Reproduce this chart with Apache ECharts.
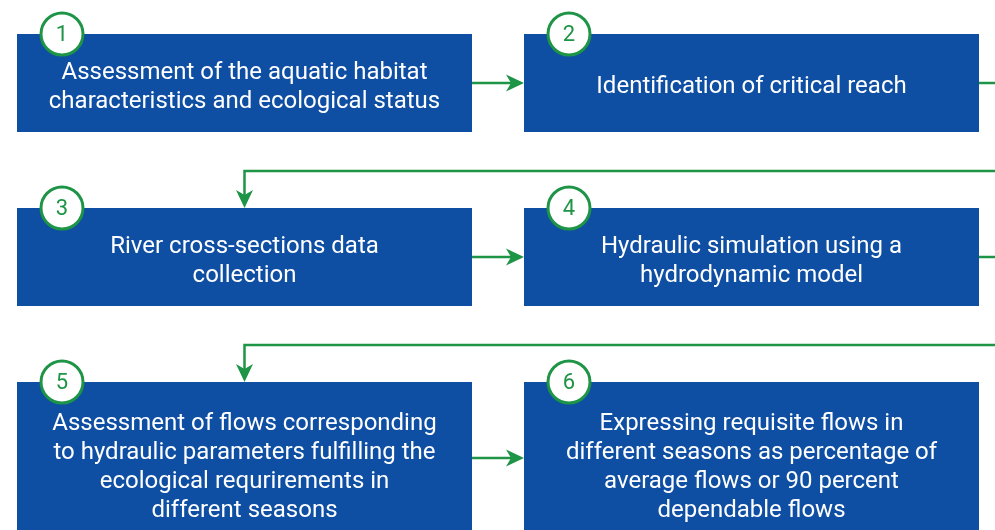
<!DOCTYPE html>
<html>
<head>
<meta charset="utf-8">
<script src="https://cdn.jsdelivr.net/npm/echarts@6/dist/echarts.min.js"></script>
<style>
  html, body { margin: 0; padding: 0; background: #fff; }
  #chart { width: 995px; height: 530px; }
</style>
</head>
<body>
<div id="chart"></div>
<script>
// steps of the flow
const stepNumbers = ["1", "2", "3", "4", "5", "6"];
const stepLabels = [
  "Assessment of the aquatic habitat\ncharacteristics and ecological status",
  "Identification of critical reach",
  "River cross-sections data\ncollection",
  "Hydraulic simulation using a\nhydrodynamic model",
  "Assessment of flows corresponding\nto hydraulic parameters fulfilling the\necological requrirements in\ndifferent seasons",
  "Expressing requisite flows in\ndifferent seasons as percentage of\naverage flows or 90 percent\ndependable flows"
];
const stepRows = [0, 0, 1, 1, 2, 2];
const stepCols = [0, 1, 0, 1, 0, 1];
// from step -> to step
const linkFrom = [0, 1, 2, 3, 4];
const linkTo = [1, 2, 3, 4, 5];

// layout (pixels on the hidden value axes)
const colLeft = [17, 524];
const colWidth = 455;
const rowTop = [34, 208, 382];
const rowHeight = [98, 98, 152];
const returnGap = 37;
const blue = "#0e4ea3";
const green = "#1e9446";

const chart = echarts.init(document.getElementById("chart"));

function boxOf(i) {
  const x = colLeft[stepCols[i]];
  const y = rowTop[stepRows[i]];
  return { x: x, y: y, w: colWidth, h: rowHeight[stepRows[i]] };
}

function arrowHead(api, tip, dir) {
  // dir: 'right' or 'down'
  const L = 18, H = 8.5, N = 5;
  let pts;
  if (dir === "right") {
    pts = [[tip[0], tip[1]], [tip[0] - L, tip[1] - H], [tip[0] - L + N, tip[1]], [tip[0] - L, tip[1] + H]];
  } else {
    pts = [[tip[0], tip[1]], [tip[0] - H, tip[1] - L], [tip[0], tip[1] - L + N], [tip[0] + H, tip[1] - L]];
  }
  return {
    type: "polygon",
    shape: { points: pts.map(p => api.coord(p)) },
    style: { fill: green }
  };
}

function renderLink(params, api) {
  const a = boxOf(linkFrom[params.dataIndex]);
  const b = boxOf(linkTo[params.dataIndex]);
  const lineStyle = { stroke: green, lineWidth: 2.5, fill: null };
  if (stepRows[linkFrom[params.dataIndex]] === stepRows[linkTo[params.dataIndex]]) {
    const y = a.y + a.h / 2;
    const p1 = api.coord([a.x + a.w, y]);
    const p2 = api.coord([b.x - 6, y]);
    return {
      type: "group",
      children: [
        { type: "line", shape: { x1: p1[0], y1: p1[1], x2: p2[0], y2: p2[1] }, style: lineStyle },
        arrowHead(api, [b.x, y], "right")
      ]
    };
  }
  const y1 = a.y + a.h / 2;
  const yr = b.y - returnGap;
  const cx = b.x + b.w / 2;
  const pts = [[a.x + a.w, y1], [1000, y1]].map(p => api.coord(p));
  const back = [[1000, yr], [cx, yr], [cx, b.y - 6]].map(p => api.coord(p));
  return {
    type: "group",
    children: [
      { type: "polyline", shape: { points: pts }, style: lineStyle },
      { type: "polyline", shape: { points: back }, style: lineStyle },
      arrowHead(api, [cx, b.y], "down")
    ]
  };
}

function renderStep(params, api) {
  const i = params.dataIndex;
  const bx = boxOf(i);
  const tl = api.coord([bx.x, bx.y]);
  const br = api.coord([bx.x + bx.w, bx.y + bx.h]);
  const textPos = api.coord([bx.x + bx.w / 2, bx.y + bx.h / 2 + (stepRows[i] === 2 ? 9 : 4)]);
  const circ = api.coord([bx.x + 45, bx.y]);
  return {
    type: "group",
    children: [
      {
        type: "rect",
        shape: { x: tl[0], y: tl[1], width: br[0] - tl[0], height: br[1] - tl[1] },
        style: { fill: blue }
      },
      {
        type: "text",
        style: {
          text: stepLabels[i], x: textPos[0], y: textPos[1],
          align: "center", verticalAlign: "middle",
          fill: "#fff", fontSize: 24, lineHeight: 29, fontFamily: "Roboto"
        }
      },
      {
        type: "circle",
        shape: { cx: circ[0], cy: circ[1], r: 21 },
        style: { fill: "#fff", stroke: green, lineWidth: 3 }
      },
      {
        type: "text",
        style: {
          text: stepNumbers[i], x: circ[0], y: circ[1] + 1,
          align: "center", verticalAlign: "middle",
          fill: green, fontSize: 22, fontFamily: "Roboto"
        }
      }
    ]
  };
}

chart.setOption({
  animation: false,
  grid: { left: 0, right: 0, top: 0, bottom: 0 },
  xAxis: { type: "value", min: 0, max: 995, show: false },
  yAxis: { type: "value", min: 0, max: 530, inverse: true, show: false },
  series: [
    {
      type: "custom",
      renderItem: renderLink,
      data: linkFrom.map((f, k) => [f, linkTo[k]]),
      clip: false,
      silent: true,
      z: 1
    },
    {
      type: "custom",
      renderItem: renderStep,
      data: stepNumbers.map((n, k) => [stepCols[k], stepRows[k]]),
      clip: false,
      silent: true,
      z: 2
    }
  ]
});
</script>
</body>
</html>
